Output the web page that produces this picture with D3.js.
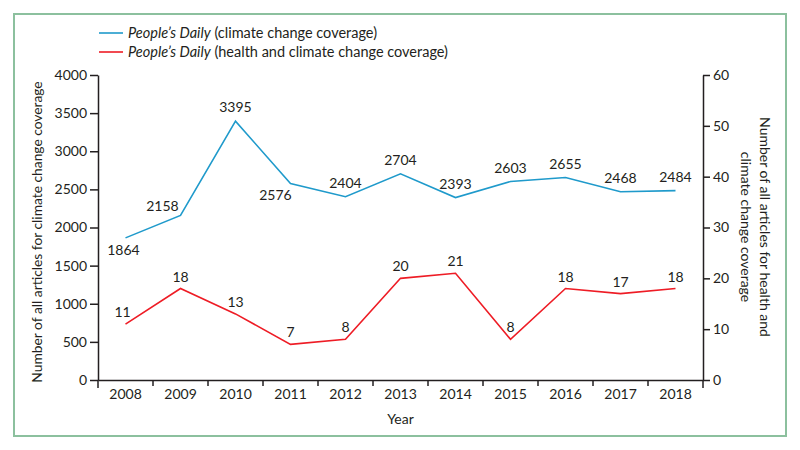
<!DOCTYPE html>
<html>
<head>
<meta charset="utf-8">
<script src="https://cdn.jsdelivr.net/npm/d3@7"></script>
<style>
  body { margin: 0; background: #fff; }
  svg text { font-family: Lato, "Open Sans", sans-serif; fill: #231f20; }
</style>
</head>
<body>
<script>
  // DATA
  const years = ["2008", "2009", "2010", "2011", "2012", "2013", "2014", "2015", "2016", "2017", "2018"];
  const climateCounts = [1864, 2158, 3395, 2576, 2404, 2704, 2393, 2603, 2655, 2468, 2484];
  const healthCounts = [11, 18, 13, 7, 8, 20, 21, 8, 18, 17, 18];
  const leftTicks = [0, 500, 1000, 1500, 2000, 2500, 3000, 3500, 4000];
  const rightTicks = [0, 10, 20, 30, 40, 50, 60];

  // label nudges (dx, dy) for the blue labels that are not simply above
  const climateNudge = {"2008": [-2, 17], "2009": [-18, -4], "2011": [-15, 16]};

  const ink = "#231f20";
  const blue = "#1f9acb";
  const red = "#ee1c25";

  var svg = d3.select("body")
    .append("svg")
    .attr("width", 800)
    .attr("height", 450);

  // green frame
  svg.append("rect")
    .attr("x", 14).attr("y", 14)
    .attr("width", 772).attr("height", 422)
    .attr("fill", "none")
    .attr("stroke", "#8cc09e")
    .attr("stroke-width", 2);

  const margin = {top: 75, right: 97, bottom: 70, left: 98};
  const width = 800 - margin.left - margin.right;
  const height = 450 - margin.top - margin.bottom;

  const xScale = d3.scaleBand().domain(years).range([0, width]).padding(0);
  const yLeft = d3.scaleLinear().domain([0, 4000]).range([height, 0]);
  const yRight = d3.scaleLinear().domain([0, 60]).range([height, 0]);

  const g = svg.append("g")
    .attr("transform", "translate(" + margin.left + "," + margin.top + ")");

  // axes
  const leftAxis = g.append("g")
    .call(d3.axisLeft(yLeft).tickValues(leftTicks).tickFormat(d => d)
      .tickSize(8).tickSizeOuter(0).tickPadding(3));
  const rightAxis = g.append("g")
    .attr("transform", "translate(" + width + ",0)")
    .call(d3.axisRight(yRight).tickValues(rightTicks).tickFormat(d => d)
      .tickSize(7).tickSizeOuter(0).tickPadding(3));
  const bottomAxis = g.append("g")
    .attr("transform", "translate(0," + height + ")")
    .call(d3.axisBottom(xScale).tickSize(0).tickSizeOuter(0).tickPadding(9));

  // year ticks sit on the band edges; the two ends run a bit longer
  const edges = years.map(d => xScale(d)).concat([width]);
  bottomAxis.selectAll(".edge").data(edges)
    .enter().append("line")
    .attr("class", "edge")
    .attr("x1", d => d).attr("x2", d => d)
    .attr("y1", 0).attr("y2", (d, i) => (i === 0 || i === edges.length - 1) ? 8 : 6)
    .attr("stroke", ink).attr("stroke-width", 1.5);

  [leftAxis, rightAxis, bottomAxis].forEach(a => {
    a.selectAll(".domain").attr("stroke", ink).attr("stroke-width", 1.5);
    a.selectAll(".tick line").attr("stroke", ink).attr("stroke-width", 1.5);
    a.selectAll(".tick text").attr("font-size", 14).attr("fill", ink)
      .style("font-family", "Lato, 'Open Sans', sans-serif");
  });

  // lines
  const cx = d => xScale(d) + xScale.bandwidth() / 2;

  const climateLine = d3.line()
    .x((d, i) => cx(years[i]))
    .y(d => yLeft(d));
  const healthLine = d3.line()
    .x((d, i) => cx(years[i]))
    .y(d => yRight(d));

  g.append("path").datum(climateCounts)
    .attr("d", climateLine)
    .attr("fill", "none").attr("stroke", blue).attr("stroke-width", 1.6);
  g.append("path").datum(healthCounts)
    .attr("d", healthLine)
    .attr("fill", "none").attr("stroke", red).attr("stroke-width", 1.6);

  // value labels
  g.selectAll(".clab").data(climateCounts)
    .enter().append("text")
    .attr("class", "clab")
    .attr("x", (d, i) => cx(years[i]) + (climateNudge[years[i]] ? climateNudge[years[i]][0] : 0))
    .attr("y", (d, i) => yLeft(d) + (climateNudge[years[i]] ? climateNudge[years[i]][1] : -9))
    .attr("text-anchor", "middle")
    .attr("font-size", 14)
    .text(d => d);

  g.selectAll(".hlab").data(healthCounts)
    .enter().append("text")
    .attr("class", "hlab")
    .attr("x", (d, i) => cx(years[i]) + (i === 0 ? -3 : 0))
    .attr("y", d => yRight(d) - 7)
    .attr("text-anchor", "middle")
    .attr("font-size", 14)
    .text(d => d);

  // axis titles
  svg.append("text")
    .attr("transform", "translate(42,232) rotate(-90)")
    .attr("text-anchor", "middle")
    .attr("font-size", 13.8)
    .text("Number of all articles for climate change coverage");

  const rt = svg.append("text")
    .attr("transform", "translate(760,227) rotate(90)")
    .attr("text-anchor", "middle")
    .attr("font-size", 14);
  rt.append("tspan").attr("x", 0).attr("dy", 0).text("Number of all articles for health and");
  rt.append("tspan").attr("x", 0).attr("dy", "1.35em").text("climate change coverage");

  svg.append("text")
    .attr("x", margin.left + width / 2)
    .attr("y", 424)
    .attr("text-anchor", "middle")
    .attr("font-size", 14)
    .text("Year");

  // legend
  const legendItems = [
    {color: blue, rest: " (climate change coverage)"},
    {color: red, rest: " (health and climate change coverage)"}
  ];
  const lg = svg.append("g");
  legendItems.forEach((item, i) => {
    const yy = 33 + i * 19;
    lg.append("line")
      .attr("x1", 99).attr("x2", 123)
      .attr("y1", yy).attr("y2", yy)
      .attr("stroke", item.color).attr("stroke-width", 1.6);
    const t = lg.append("text")
      .attr("x", 128).attr("y", yy + 5)
      .attr("font-size", 14.5);
    t.append("tspan").attr("font-style", "italic").text("People\u2019s Daily");
    t.append("tspan").text(item.rest);
  });
</script>
</body>
</html>
